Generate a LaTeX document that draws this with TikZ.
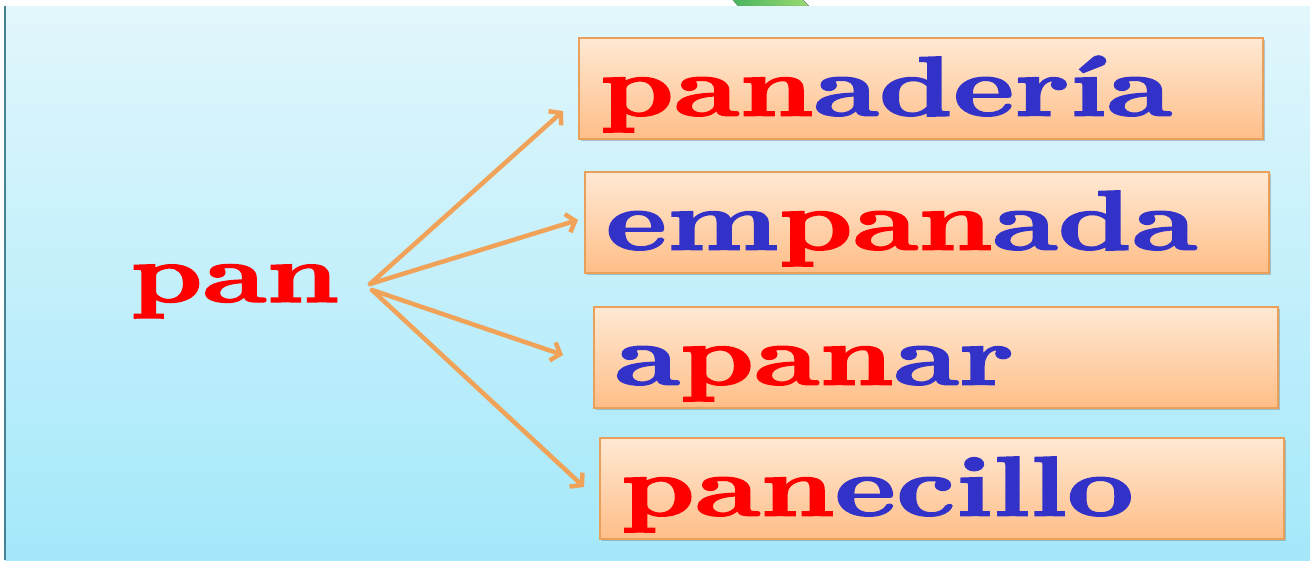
\documentclass[tikz,border=0pt]{standalone}
\usepackage{fontspec}
\usepackage{graphicx}
\usetikzlibrary{arrows.meta,shadows}

\newfontfamily\wordfont{lmroman10-bold.otf}[FakeBold=1.6]

\definecolor{bgtop}{RGB}{226,247,252}
\definecolor{bgbot}{RGB}{164,232,250}
\definecolor{boxtop}{RGB}{255,233,212}
\definecolor{boxbot}{RGB}{255,190,136}
\definecolor{boxline}{RGB}{232,160,90}
\definecolor{arrowcol}{RGB}{240,162,88}
\definecolor{rootred}{RGB}{255,0,0}
\definecolor{affixblue}{RGB}{50,50,200}
\definecolor{edgeline}{RGB}{70,130,145}
\definecolor{leafl}{RGB}{70,180,95}
\definecolor{leafr}{RGB}{155,218,112}

\newcommand{\wide}[1]{\scalebox{1.37}[1]{#1}}
\newcommand{\rt}[1]{\textcolor{rootred}{#1}}
\newcommand{\af}[1]{\textcolor{affixblue}{#1}}

\tikzset{
    wordbox/.style={draw=boxline,line width=1.5pt,top color=boxtop,bottom color=boxbot,
        drop shadow={shadow xshift=2pt,shadow yshift=-2pt,opacity=.35,fill=black!60},
        anchor=north west,inner xsep=21pt,inner ysep=0pt,text width=642pt,align=left,
        text height=78pt,text depth=23pt,font=\fontsize{85}{85}\wordfont},
    rootword/.style={text=rootred,inner sep=0pt,font=\fontsize{83}{83}\wordfont},
    link/.style={-{Straight Barb[length=8pt,width=19pt]},arrowcol,line width=4.5pt,line cap=round}
}

\begin{document}
\begin{tikzpicture}[x=1pt,y=-1pt]
    \useasboundingbox (0,0) rectangle (1310,560);
    \fill [white] (0,0) rectangle (1310,560);
    \shade [left color=leafl,right color=leafr,draw=gray] (731,-2) -- (801,-2) -- (809,6) -- (738,6) -- cycle;
    \shade [top color=bgtop,bottom color=bgbot] (5,6) rectangle (1310,560);
    \draw [edgeline,line width=1.5pt] (5,6) -- (5,560);

    \node [rootword,anchor=base west] (pan) at (130,302) {\wide{pan}};

    \node [wordbox] (panaderia) at (578,37) {\wide{\rt{pan}\af{adería}}};
    \node [wordbox] (empanada) at (584,171) {\wide{\af{em}\rt{pan}\af{ada}}};
    \node [wordbox] (apanar) at (593,306) {\wide{\af{a}\rt{pan}\af{ar}}};
    \node [wordbox] (panecillo) at (599,437) {\wide{\rt{pan}\af{ecillo}}};

    % fork of arrows right of the root
    \coordinate (fork) at (370,284);
    \coordinate (forkb) at (372,290);
    \coordinate (toA) at (563,111);
    \coordinate (toB) at (578,220);
    \coordinate (toC) at (563,355);
    \coordinate (toD) at (584,487);
    \draw [link] (fork) -- (toA);
    \draw [link] (fork) -- (toB);
    \draw [link] (forkb) -- (toC);
    \draw [link] (forkb) -- (toD);
\end{tikzpicture}
\end{document}
